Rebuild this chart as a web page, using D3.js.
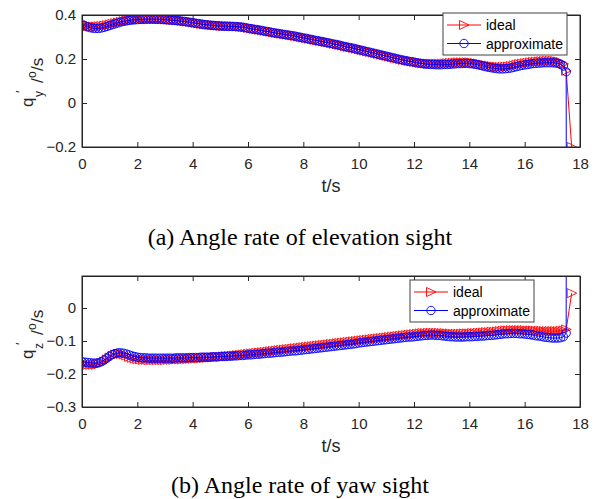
<!DOCTYPE html>
<html lang="en">
<head>
<meta charset="UTF-8">
<title>Angle rate of sight</title>
<script src="https://d3js.org/d3.v7.min.js"></script>
<style>
  body { margin: 0; background: #fff; }
  svg text { font-family: "Liberation Sans", Arial, sans-serif; }
  .caption { font-family: "Liberation Serif", "Times New Roman", serif; font-size: 24px; fill: #000; }
</style>
</head>
<body>
<svg id="fig" width="599" height="499"></svg>
<script>
// time samples every 0.1 s from 0 to 17.5 s
const t = d3.range(0, 176).map(i => +(i * 0.1).toFixed(1));

// (a) elevation sight rate
const idealY = [
  0.352, 0.350, 0.349, 0.348, 0.348, 0.348, 0.349, 0.350, 0.352, 0.354,
  0.357, 0.360, 0.363, 0.366, 0.369, 0.372, 0.374, 0.376, 0.378, 0.379,
  0.380, 0.381, 0.381, 0.382, 0.382, 0.382, 0.382, 0.382, 0.381, 0.381,
  0.380, 0.379, 0.378, 0.377, 0.376, 0.375, 0.373, 0.372, 0.370, 0.368,
  0.366, 0.364, 0.362, 0.360, 0.358, 0.357, 0.355, 0.354, 0.353, 0.352,
  0.351, 0.350, 0.350, 0.349, 0.349, 0.349, 0.348, 0.347, 0.346, 0.344,
  0.341, 0.339, 0.337, 0.335, 0.333, 0.331, 0.328, 0.326, 0.324, 0.321,
  0.319, 0.317, 0.315, 0.313, 0.311, 0.309, 0.307, 0.305, 0.302, 0.300,
  0.297, 0.295, 0.292, 0.290, 0.287, 0.285, 0.282, 0.280, 0.277, 0.275,
  0.272, 0.269, 0.267, 0.264, 0.261, 0.258, 0.255, 0.253, 0.250, 0.247,
  0.244, 0.241, 0.238, 0.235, 0.232, 0.229, 0.226, 0.223, 0.220, 0.217,
  0.214, 0.211, 0.208, 0.205, 0.202, 0.199, 0.196, 0.194, 0.191, 0.189,
  0.187, 0.185, 0.183, 0.181, 0.180, 0.179, 0.179, 0.179, 0.179, 0.179,
  0.179, 0.180, 0.181, 0.182, 0.183, 0.184, 0.185, 0.185, 0.185, 0.185,
  0.185, 0.184, 0.182, 0.180, 0.177, 0.175, 0.172, 0.170, 0.168, 0.166,
  0.165, 0.164, 0.164, 0.165, 0.166, 0.168, 0.171, 0.174, 0.177, 0.179,
  0.181, 0.183, 0.185, 0.187, 0.188, 0.189, 0.190, 0.191, 0.192, 0.192,
  0.192, 0.191, 0.189, 0.186, 0.178, 0.146
];
const approxY = [
  0.358, 0.352, 0.346, 0.342, 0.340, 0.339, 0.339, 0.341, 0.344, 0.348,
  0.352, 0.356, 0.360, 0.364, 0.368, 0.371, 0.373, 0.375, 0.377, 0.378,
  0.379, 0.380, 0.380, 0.381, 0.381, 0.381, 0.381, 0.381, 0.380, 0.380,
  0.379, 0.378, 0.377, 0.376, 0.375, 0.374, 0.372, 0.371, 0.369, 0.367,
  0.365, 0.363, 0.361, 0.359, 0.357, 0.356, 0.354, 0.353, 0.352, 0.351,
  0.350, 0.349, 0.349, 0.348, 0.348, 0.348, 0.347, 0.346, 0.345, 0.343,
  0.340, 0.338, 0.336, 0.334, 0.332, 0.330, 0.327, 0.325, 0.323, 0.320,
  0.318, 0.316, 0.314, 0.312, 0.310, 0.308, 0.306, 0.304, 0.301, 0.299,
  0.296, 0.294, 0.291, 0.289, 0.286, 0.284, 0.281, 0.279, 0.276, 0.274,
  0.271, 0.268, 0.266, 0.263, 0.260, 0.257, 0.254, 0.252, 0.249, 0.246,
  0.243, 0.240, 0.237, 0.234, 0.231, 0.228, 0.225, 0.222, 0.219, 0.216,
  0.213, 0.210, 0.207, 0.204, 0.201, 0.198, 0.195, 0.193, 0.190, 0.188,
  0.186, 0.183, 0.181, 0.179, 0.177, 0.176, 0.175, 0.175, 0.174, 0.174,
  0.174, 0.175, 0.175, 0.176, 0.177, 0.178, 0.179, 0.179, 0.180, 0.180,
  0.179, 0.178, 0.176, 0.174, 0.171, 0.168, 0.165, 0.162, 0.160, 0.158,
  0.156, 0.155, 0.155, 0.156, 0.157, 0.159, 0.162, 0.165, 0.168, 0.171,
  0.173, 0.175, 0.177, 0.179, 0.180, 0.181, 0.182, 0.183, 0.183, 0.183,
  0.183, 0.182, 0.180, 0.176, 0.168, 0.142
];

// (b) yaw sight rate
const idealZ = [
  -0.170, -0.171, -0.172, -0.172, -0.172, -0.172, -0.170, -0.167, -0.162, -0.156,
  -0.150, -0.145, -0.141, -0.139, -0.139, -0.141, -0.144, -0.148, -0.151, -0.153,
  -0.155, -0.156, -0.157, -0.157, -0.158, -0.158, -0.158, -0.158, -0.158, -0.158,
  -0.158, -0.157, -0.157, -0.157, -0.156, -0.156, -0.156, -0.155, -0.155, -0.154,
  -0.154, -0.153, -0.153, -0.152, -0.152, -0.151, -0.150, -0.150, -0.149, -0.148,
  -0.148, -0.147, -0.146, -0.145, -0.145, -0.144, -0.143, -0.142, -0.141, -0.140,
  -0.139, -0.138, -0.137, -0.136, -0.135, -0.134, -0.133, -0.132, -0.131, -0.130,
  -0.129, -0.128, -0.127, -0.126, -0.125, -0.124, -0.123, -0.122, -0.121, -0.120,
  -0.119, -0.118, -0.117, -0.116, -0.115, -0.114, -0.113, -0.112, -0.111, -0.110,
  -0.109, -0.108, -0.107, -0.106, -0.105, -0.104, -0.103, -0.102, -0.101, -0.100,
  -0.099, -0.098, -0.097, -0.096, -0.095, -0.094, -0.093, -0.092, -0.091, -0.090,
  -0.089, -0.088, -0.087, -0.086, -0.085, -0.084, -0.083, -0.082, -0.081, -0.080,
  -0.079, -0.078, -0.077, -0.076, -0.076, -0.075, -0.075, -0.075, -0.075, -0.075,
  -0.076, -0.076, -0.077, -0.077, -0.078, -0.078, -0.078, -0.078, -0.077, -0.077,
  -0.077, -0.076, -0.076, -0.075, -0.075, -0.074, -0.073, -0.073, -0.072, -0.072,
  -0.071, -0.070, -0.069, -0.068, -0.068, -0.067, -0.067, -0.067, -0.067, -0.067,
  -0.067, -0.068, -0.068, -0.068, -0.069, -0.069, -0.069, -0.070, -0.070, -0.070,
  -0.070, -0.070, -0.070, -0.069, -0.068, -0.065
];
const approxZ = [
  -0.163, -0.164, -0.165, -0.166, -0.167, -0.167, -0.166, -0.163, -0.158, -0.152,
  -0.146, -0.141, -0.138, -0.136, -0.136, -0.137, -0.139, -0.142, -0.145, -0.147,
  -0.149, -0.150, -0.151, -0.151, -0.152, -0.152, -0.152, -0.152, -0.152, -0.152,
  -0.152, -0.152, -0.152, -0.152, -0.151, -0.151, -0.151, -0.151, -0.151, -0.150,
  -0.150, -0.150, -0.150, -0.149, -0.149, -0.149, -0.149, -0.148, -0.148, -0.148,
  -0.147, -0.147, -0.147, -0.146, -0.146, -0.145, -0.145, -0.144, -0.144, -0.143,
  -0.142, -0.142, -0.141, -0.140, -0.140, -0.139, -0.138, -0.137, -0.137, -0.136,
  -0.135, -0.134, -0.134, -0.133, -0.132, -0.131, -0.130, -0.130, -0.129, -0.128,
  -0.127, -0.126, -0.125, -0.124, -0.123, -0.122, -0.121, -0.120, -0.119, -0.118,
  -0.117, -0.116, -0.115, -0.114, -0.113, -0.112, -0.111, -0.110, -0.109, -0.108,
  -0.106, -0.105, -0.104, -0.103, -0.102, -0.101, -0.100, -0.099, -0.098, -0.097,
  -0.096, -0.095, -0.094, -0.093, -0.092, -0.091, -0.090, -0.089, -0.088, -0.088,
  -0.087, -0.086, -0.085, -0.084, -0.083, -0.083, -0.082, -0.082, -0.083, -0.083,
  -0.084, -0.085, -0.086, -0.087, -0.087, -0.088, -0.088, -0.088, -0.088, -0.087,
  -0.087, -0.087, -0.086, -0.086, -0.085, -0.085, -0.084, -0.083, -0.083, -0.082,
  -0.081, -0.080, -0.079, -0.078, -0.078, -0.077, -0.077, -0.077, -0.078, -0.078,
  -0.079, -0.080, -0.081, -0.082, -0.084, -0.085, -0.086, -0.088, -0.089, -0.090,
  -0.091, -0.091, -0.091, -0.090, -0.087, -0.076
];

// final samples after the jump at the end
const idealEndT = 17.7, idealEndY = -0.2, idealEndZ = 0.045;
const approxEndT = 17.52, approxEndY = -2.0, approxEndZ = 2.0;

const xTicks = [0, 2, 4, 6, 8, 10, 12, 14, 16, 18];
const yTicksA = [-0.2, 0, 0.2, 0.4];
const yTicksB = [-0.3, -0.2, -0.1, 0];
const legendNames = ["ideal", "approximate"];
const captions = ["(a) Angle rate of elevation sight", "(b) Angle rate of yaw sight"];

const svg = d3.select("#fig");
const axisColor = "#262626";

function rows(ts, vs, endT, endV) {
  const r = ts.map((d, i) => [d, vs[i]]);
  r.push([endT, endV]);
  return r;
}

function panel(opt) {
  const x = d3.scaleLinear().domain([0, 18]).range([82, 580]);
  const y = d3.scaleLinear().domain(opt.yDomain).range([opt.bottom, opt.top]);
  const g = svg.append("g");

  g.append("clipPath").attr("id", opt.id)
    .append("rect").attr("x", 82).attr("y", opt.top)
    .attr("width", 498).attr("height", opt.bottom - opt.top);

  const plot = g.append("g").attr("clip-path", `url(#${opt.id})`);
  const line = d3.line().x(d => x(d[0])).y(d => y(d[1]));

  const ideal = rows(t, opt.ideal, idealEndT, opt.idealEnd);
  const approx = rows(t, opt.approx, approxEndT, opt.approxEnd);

  const tri = "M-4.5,-4.5L5,0L-4.5,4.5Z";

  plot.append("path").datum(ideal).attr("d", line)
    .attr("fill", "none").attr("stroke", "#ff0000").attr("stroke-width", 1);
  plot.selectAll(".tri").data(ideal).join("path")
    .attr("transform", d => `translate(${x(d[0])},${y(d[1])})`)
    .attr("d", tri).attr("fill", "none").attr("stroke", "#ff0000").attr("stroke-width", 0.9);

  plot.append("path").datum(approx).attr("d", line)
    .attr("fill", "none").attr("stroke", "#0000ff").attr("stroke-width", 1);
  plot.selectAll(".circ").data(approx).join("circle")
    .attr("cx", d => x(d[0])).attr("cy", d => y(d[1])).attr("r", 4.2)
    .attr("fill", "none").attr("stroke", "#0000ff").attr("stroke-width", 0.9);

  // box with inward ticks on all sides
  const fmt = d => d === 0 ? "0" : d3.format("")(d);
  const styleAxis = sel => {
    sel.select(".domain").attr("stroke", axisColor);
    sel.selectAll(".tick line").attr("stroke", axisColor);
    sel.selectAll(".tick text").attr("fill", axisColor).style("font-size", "15px");
  };
  g.append("g").attr("transform", `translate(0,${opt.bottom})`)
    .call(d3.axisBottom(x).tickValues(xTicks).tickSize(-5).tickSizeOuter(0).tickPadding(11).tickFormat(fmt))
    .call(styleAxis);
  g.append("g").attr("transform", `translate(0,${opt.top})`)
    .call(d3.axisTop(x).tickValues(xTicks).tickSize(-5).tickSizeOuter(0).tickFormat(""))
    .call(styleAxis);
  g.append("g").attr("transform", "translate(82,0)")
    .call(d3.axisLeft(y).tickValues(opt.yTicks).tickSize(-5).tickSizeOuter(0).tickPadding(6).tickFormat(fmt))
    .call(styleAxis);
  g.append("g").attr("transform", "translate(580,0)")
    .call(d3.axisRight(y).tickValues(opt.yTicks).tickSize(-5).tickSizeOuter(0).tickFormat(""))
    .call(styleAxis);
  g.append("rect").attr("x", 82).attr("y", opt.top)
    .attr("width", 498).attr("height", opt.bottom - opt.top)
    .attr("fill", "none").attr("stroke", axisColor).attr("stroke-width", 1);

  // axis labels
  g.append("text").attr("x", 331).attr("y", opt.bottom + 45)
    .attr("text-anchor", "middle").attr("fill", axisColor).style("font-size", "18px").text("t/s");

  // y label, rotated: local x runs up the page, local y runs to the right
  const yl = g.append("g").attr("transform", `translate(0,${opt.labelStart}) rotate(-90)`)
    .attr("fill", axisColor);
  const part = (txt, lx, ly, size) => yl.append("text").attr("x", lx).attr("y", ly)
    .style("font-size", size + "px").text(txt);
  part("q", 0, 33, 17);
  part("′", 14, 25, 13);
  part(opt.sub, 10, 43, 12);
  part("/", 24, 43, 17);
  part("o", 29, 36, 12);
  part("/s", 36, 43, 17);

  // legend
  const lg = g.append("g").attr("transform", `translate(${opt.legX},${opt.legY})`);
  lg.append("rect").attr("width", 124).attr("height", 42)
    .attr("fill", "#fff").attr("stroke", "#404040").attr("stroke-width", 1);
  legendNames.forEach((name, i) => {
    const cy = 12 + i * 18.5;
    const col = i === 0 ? "#ff0000" : "#0000ff";
    lg.append("line").attr("x1", 4).attr("x2", 38).attr("y1", cy).attr("y2", cy)
      .attr("stroke", col).attr("stroke-width", 1);
    if (i === 0) {
      lg.append("path").attr("transform", `translate(21,${cy})`).attr("d", tri)
        .attr("fill", "none").attr("stroke", col).attr("stroke-width", 0.9);
    } else {
      lg.append("circle").attr("cx", 21).attr("cy", cy).attr("r", 4.2)
        .attr("fill", "none").attr("stroke", col).attr("stroke-width", 0.9);
    }
    lg.append("text").attr("x", 43).attr("y", cy + 5).attr("fill", "#000")
      .style("font-size", "14px").text(name);
  });

  svg.append("text").attr("class", "caption").attr("x", 300).attr("y", opt.capY)
    .attr("text-anchor", "middle").text(opt.caption);
}

panel({
  id: "clipA", top: 15, bottom: 147, yDomain: [-0.2, 0.4], yTicks: yTicksA,
  ideal: idealY, approx: approxY, idealEnd: idealEndY, approxEnd: approxEndY,
  sub: "y", legX: 443, legY: 13, capY: 245, caption: captions[0], labelStart: 107
});
panel({
  id: "clipB", top: 276, bottom: 407, yDomain: [-0.3, 0.097], yTicks: yTicksB,
  ideal: idealZ, approx: approxZ, idealEnd: idealEndZ, approxEnd: approxEndZ,
  sub: "z", legX: 410, legY: 280, capY: 493, caption: captions[1], labelStart: 359
});
</script>
</body>
</html>
